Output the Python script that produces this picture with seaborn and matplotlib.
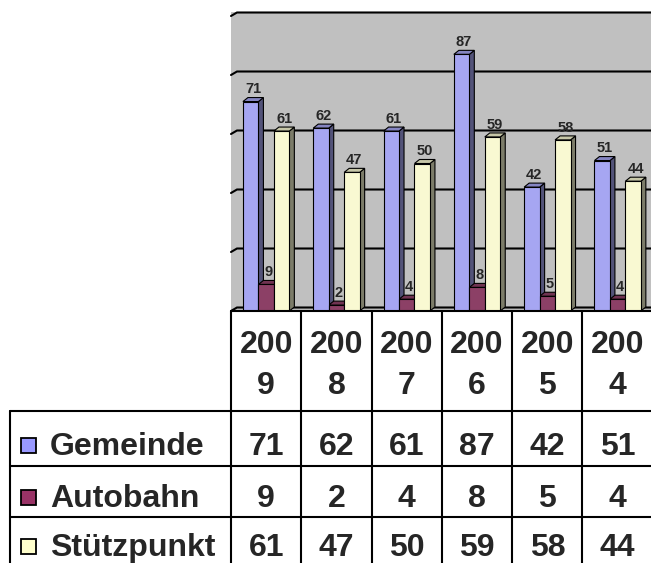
import numpy as np
import pandas as pd
import matplotlib
matplotlib.use("Agg")
import matplotlib.pyplot as plt
import seaborn as sns
from matplotlib.patches import Polygon, Rectangle

# DATEN
years = ["2009", "2008", "2007", "2006", "2005", "2004"]
series = ["Gemeinde", "Autobahn", "Stützpunkt"]
gemeinde = [71, 62, 61, 87, 42, 51]
autobahn = [9, 2, 4, 8, 5, 4]
stuetzpunkt = [61, 47, 50, 59, 58, 44]
colors = ["#9999FF", "#993366", "#FFFFCC"]
grid_values = [0, 20, 40, 60, 80, 100]

df = pd.DataFrame({"Jahr": years * 3,
                   "Serie": np.repeat(series, len(years)),
                   "Wert": gemeinde + autobahn + stuetzpunkt})

sns.set_style("white")
plt.rcParams["font.family"] = ["Liberation Sans", "DejaVu Sans"]

W, H = 651, 563
fig = plt.figure(figsize=(W / 100, H / 100), dpi=100)

# Plotfläche in Pixeln: links 231, Boden 311, oben 12
x0, ybase, ytop = 231, 311, 12
colw = 70.3
pxu = 2.95  # Pixel pro Werteinheit
ax = fig.add_axes([x0 / W, (H - ybase) / H, len(years) * colw / W, (ybase - ytop) / H])
ax.set_facecolor("#C0C0C0")

sns.barplot(data=df, x="Jahr", y="Wert", hue="Serie", order=years, hue_order=series,
            palette=colors, width=0.66, edgecolor="black", linewidth=0.8,
            errorbar=None, legend=False, ax=ax, zorder=3)
ax.set_xlim(-0.5, len(years) - 0.5)
ax.set_ylim(0, (ybase - ytop) / pxu)
ax.set_xlabel("")
ax.set_ylabel("")
ax.set_xticks([])
ax.set_yticks([])
for s in ax.spines.values():
    s.set_visible(False)

# Pixel -> Dateneinheiten
pxx = ax.transData.transform((1, 0))[0] - ax.transData.transform((0, 0))[0]

# Gitterlinien an der Rückwand (mit schrägem Ansatz links)
wdx, wdy = 6 / pxx, 3.5 / pxu
for v in grid_values:
    ax.plot([-0.5, -0.5 + wdx, len(years)], [v, v + wdy, v + wdy],
            color="black", lw=1.5, zorder=1, clip_on=False, solid_joinstyle="miter")

# 3D-Effekt: Seiten- und Deckflächen
bdx, bdy = 5 / pxx, 4 / pxu
for p in list(ax.patches):
    x, w, h = p.get_x(), p.get_width(), p.get_height()
    c = np.array(p.get_facecolor()[:3])
    side = Polygon([(x + w, 0), (x + w + bdx, bdy), (x + w + bdx, h + bdy), (x + w, h)],
                   closed=True, facecolor=c * 0.5, edgecolor="black", lw=0.8, zorder=2)
    top = Polygon([(x, h), (x + bdx, h + bdy), (x + w + bdx, h + bdy), (x + w, h)],
                  closed=True, facecolor=c * 0.8, edgecolor="black", lw=0.8, zorder=2)
    ax.add_patch(side)
    ax.add_patch(top)
    ax.annotate(f"{h:.0f}", (x + w / 2 + bdx / 2, h + bdy), xytext=(0, 3),
                textcoords="offset points", ha="center", va="baseline",
                fontsize=10.5, fontweight="bold", zorder=5)

# DATENTABELLE
tab = fig.add_axes([0, 0, 1, 1])
tab.set_xlim(0, W)
tab.set_ylim(H, 0)
tab.axis("off")

edges = [ax.transData.transform((i - 0.5, 0))[0] for i in range(len(years) + 1)]
centers = [ax.transData.transform((i, 0))[0] for i in range(len(years))]

lw = 1.5
tab.plot([edges[0], W], [ybase, ybase], color="black", lw=lw)
for yy in [411, 466, 517]:
    tab.plot([10, W], [yy, yy], color="black", lw=lw)
tab.plot([10, 10], [411, H], color="black", lw=lw)
for e in edges:
    tab.plot([e, e], [ybase, H], color="black", lw=lw)

fs = 23
for cx, yr in zip(centers, years):
    tab.text(cx, 353, yr[:3], ha="center", va="baseline", fontsize=fs, fontweight="bold")
    tab.text(cx, 394, yr[3:], ha="center", va="baseline", fontsize=fs, fontweight="bold")

rows = [gemeinde, autobahn, stuetzpunkt]
baselines = [455, 507, 556]
for name, col, vals, yb in zip(series, colors, rows, baselines):
    tab.add_patch(Rectangle((21, yb - 17), 15, 15, facecolor=col,
                            edgecolor="black", lw=1.3))
    tab.text(50, yb, name, ha="left", va="baseline", fontsize=fs, fontweight="bold")
    for cx, v in zip(centers, vals):
        tab.text(cx, yb, str(v), ha="center", va="baseline", fontsize=fs, fontweight="bold")

fig.savefig("out.png", dpi=100)
